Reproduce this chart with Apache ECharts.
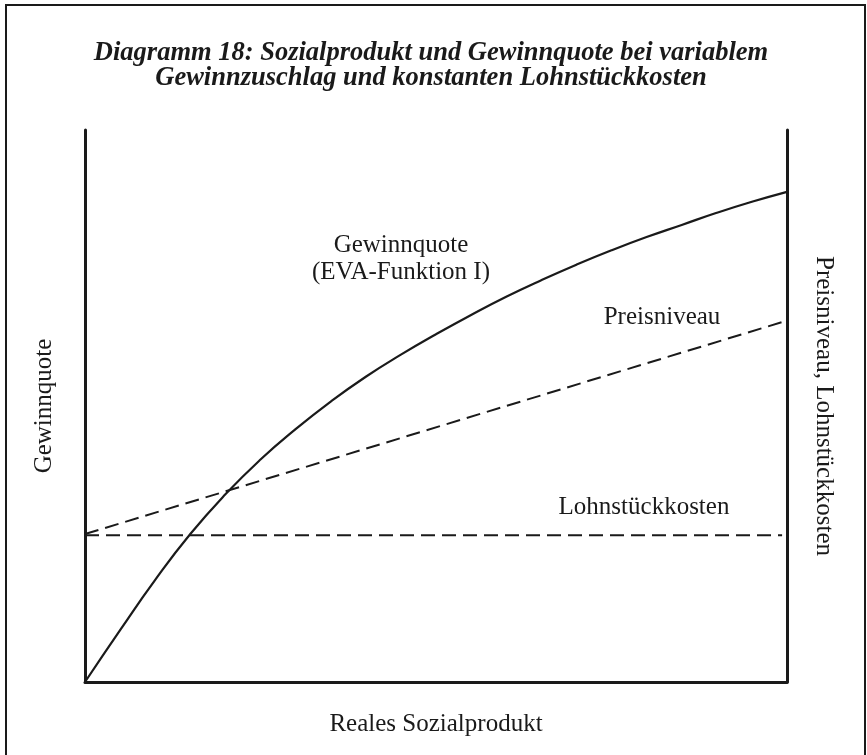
<!DOCTYPE html>
<html>
<head>
<meta charset="utf-8">
<script src="https://cdn.jsdelivr.net/npm/echarts@6/dist/echarts.min.js"></script>
<style>
  html, body { margin: 0; padding: 0; background: #fff; }
  #chart { width: 867px; height: 755px; }
</style>
</head>
<body>
<div id="chart"></div>
<script>
  var gewinnX = [0, 5, 10, 15, 20, 25, 30, 35, 40, 45, 50, 55, 60, 65, 70, 75, 80, 85, 90, 95, 100];
  var gewinnY = [0, 9.4, 18.5, 26.8, 34.0, 40.3, 45.8, 50.8, 55.3, 59.3, 63.0, 66.5, 69.8, 72.8, 75.6, 78.2, 80.6, 82.8, 85.0, 87.0, 88.8];
  var preisX = [0, 99.3];
  var preisY = [26.8, 65.2];
  var lohnX = [0, 99.3];
  var lohnY = [26.6, 26.6];

  function pairs(xs, ys) {
    return xs.map(function (x, i) { return [x, ys[i]]; });
  }

  var font = 'Liberation Serif';
  var ink = '#1a1a1a';

  var myChart = echarts.init(document.getElementById('chart'), null, { renderer: 'canvas' });

  var axisLine = { show: true, onZero: false, lineStyle: { color: ink, width: 3 } };

  var option = {
    animation: false,
    backgroundColor: '#fff',
    title: {
      text: 'Diagramm 18: Sozialprodukt und Gewinnquote bei variablem\nGewinnzuschlag und konstanten Lohnstückkosten',
      left: 426,
      top: 36,
      textAlign: 'center',
      textStyle: {
        fontFamily: font, fontSize: 26.5, fontWeight: 'bold', fontStyle: 'italic',
        color: ink, lineHeight: 25
      }
    },
    grid: { left: 85, right: 80, top: 130, bottom: 73 },
    xAxis: {
      type: 'value', min: 0, max: 100,
      name: 'Reales Sozialprodukt',
      nameLocation: 'middle',
      nameGap: 30,
      nameTextStyle: { fontFamily: font, fontSize: 25, color: ink },
      axisLine: axisLine,
      axisTick: { show: false }, axisLabel: { show: false }, splitLine: { show: false }
    },
    yAxis: [
      {
        type: 'value', min: 0, max: 100, position: 'left',
        name: 'Gewinnquote',
        nameLocation: 'middle',
        nameGap: 28,
        nameTextStyle: { fontFamily: font, fontSize: 25, color: ink },
        axisLine: axisLine,
        axisTick: { show: false }, axisLabel: { show: false }, splitLine: { show: false }
      },
      {
        type: 'value', min: 0, max: 100, position: 'right',
        name: 'Preisniveau, Lohnstückkosten',
        nameLocation: 'middle',
        nameRotate: -90,
        nameGap: 24,
        nameTextStyle: { fontFamily: font, fontSize: 25, color: ink },
        axisLine: axisLine,
        axisTick: { show: false }, axisLabel: { show: false }, splitLine: { show: false }
      }
    ],
    series: [
      {
        name: 'Gewinnquote',
        type: 'line',
        yAxisIndex: 0,
        smooth: true,
        showSymbol: false,
        lineStyle: { color: ink, width: 2.2 },
        data: pairs(gewinnX, gewinnY)
      },
      {
        name: 'Preisniveau',
        type: 'line',
        yAxisIndex: 1,
        showSymbol: false,
        lineStyle: { color: ink, width: 2, type: [14, 7] },
        data: pairs(preisX, preisY)
      },
      {
        name: 'Lohnstückkosten',
        type: 'line',
        yAxisIndex: 1,
        showSymbol: false,
        lineStyle: { color: ink, width: 2, type: [14, 7] },
        data: pairs(lohnX, lohnY)
      }
    ],
    graphic: [
      {
        type: 'rect',
        shape: { x: 6, y: 5, width: 859, height: 770 },
        style: { fill: null, stroke: ink, lineWidth: 2 },
        silent: true
      },
      {
        type: 'text', x: 401, y: 245,
        style: { text: 'Gewinnquote', font: '25px "' + font + '"', fill: ink, align: 'center', verticalAlign: 'middle' }
      },
      {
        type: 'text', x: 401, y: 272,
        style: { text: '(EVA-Funktion I)', font: '25px "' + font + '"', fill: ink, align: 'center', verticalAlign: 'middle' }
      },
      {
        type: 'text', x: 662, y: 317,
        style: { text: 'Preisniveau', font: '25px "' + font + '"', fill: ink, align: 'center', verticalAlign: 'middle' }
      },
      {
        type: 'text', x: 644, y: 507,
        style: { text: 'Lohnstückkosten', font: '25px "' + font + '"', fill: ink, align: 'center', verticalAlign: 'middle' }
      }
    ]
  };

  option && myChart.setOption(option);
</script>
</body>
</html>
